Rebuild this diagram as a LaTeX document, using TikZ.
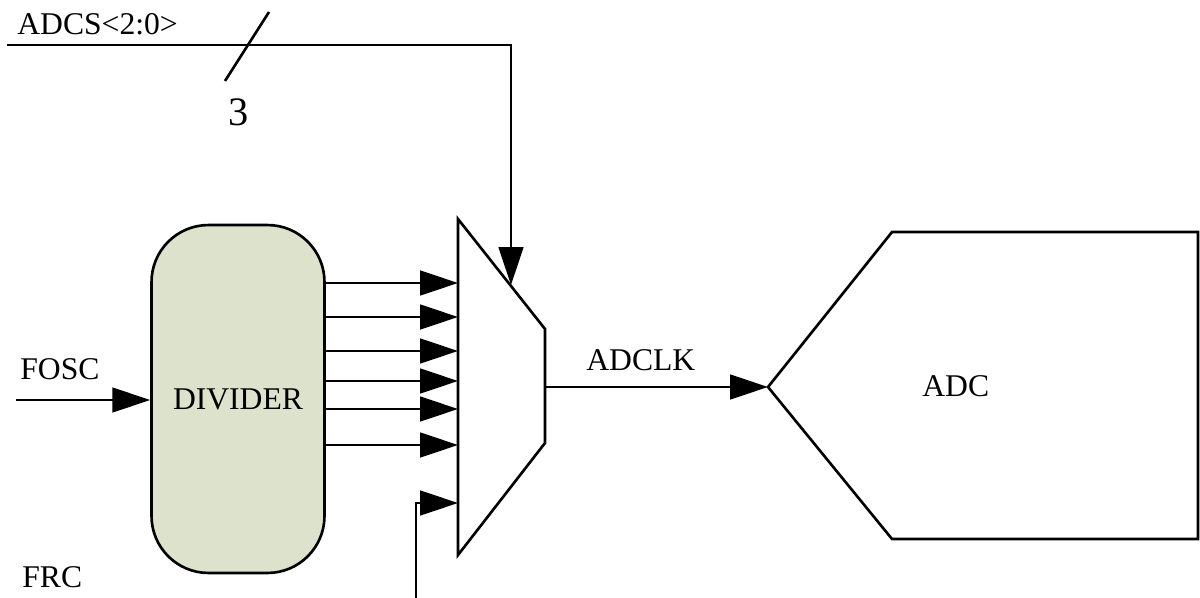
\documentclass[tikz,border=0pt]{standalone}
\usepackage{fontspec}
\setmainfont{Liberation Serif}
\usetikzlibrary{positioning}
\usetikzlibrary{arrows.meta}
\definecolor{divfill}{HTML}{DDE2CC}
\tikzset{
    wire/.style = {line width=1.5pt,draw=black,line join=miter},
    sig/.style = {wire,-{Triangle[length=21.5pt,width=14pt]}},
    divbox/.style = {rectangle, rounded corners=1.14cm, line width=1.5pt, draw=black, fill=divfill, minimum width=3.46cm, minimum height=6.96cm, inner sep=0pt, font=\fontsize{18}{20}\selectfont},
    lbl/.style = {inner sep=0pt, font=\fontsize{18}{20}\selectfont},
    biglbl/.style = {inner sep=0pt, font=\fontsize{23}{25}\selectfont}
}

\begin{document}
\begin{tikzpicture}[x=0.02cm,y=-0.02cm]
\useasboundingbox (0,0) rectangle (1200,598);
%
\node[divbox] at (238,399) (div) {DIVIDER};
\coordinate (mtl) at (458,219);
\coordinate (mbl) at (458,555);
\coordinate (mtr) at (545,329);
\coordinate (mbr) at (545,443);
\coordinate (mout) at (545,387);
\coordinate (msel) at (511,285);
\coordinate (adctip) at (768,387);
\coordinate (adctl) at (892,232);
\coordinate (adctr) at (1198,232);
\coordinate (adcbr) at (1198,539);
\coordinate (adcbl) at (892,539);
\coordinate (adcsin) at (7,45);
\coordinate (fosc) at (16,400);
\coordinate (frc) at (416,598);
\coordinate (in7) at (458,503);
\coordinate (bus1) at (225,81);
\coordinate (bus2) at (269,12);
%
\node[lbl,anchor=base west] at (17,35) (adcs) {ADCS<2:0>};
\node[biglbl] at (239,112) (width) {3};
\node[lbl,anchor=base west] at (20,379) (fosclbl) {FOSC};
\node[lbl,anchor=base west] at (22,587) (frclbl) {FRC};
\node[lbl,anchor=base west] at (586,370) (adclk) {ADCLK};
\node[lbl,anchor=base west] at (922,396) (adc) {ADC};
%
\draw[wire] (mtl) -- (mtr) -- (mbr) -- (mbl) -- cycle;
\draw[wire] (adctip) -- (adctl) -- (adctr) -- (adcbr) -- (adcbl) -- cycle;
%
\foreach \y [count=\i] in {283,317,351,381,409,445} {
  \coordinate (in\i) at (458,\y);
  \draw[sig] (div.east |- in\i) -- (in\i);
}
\draw[sig] (frc) -- (frc |- in7) -- (in7);
\draw[sig] (fosc) -- (fosc -| div.west);
\draw[sig] (adcsin) -- (msel |- adcsin) -- (msel);
\draw[wire] (bus1) -- (bus2);
\draw[sig] (mout) -- (adctip);
\end{tikzpicture}
\end{document}
